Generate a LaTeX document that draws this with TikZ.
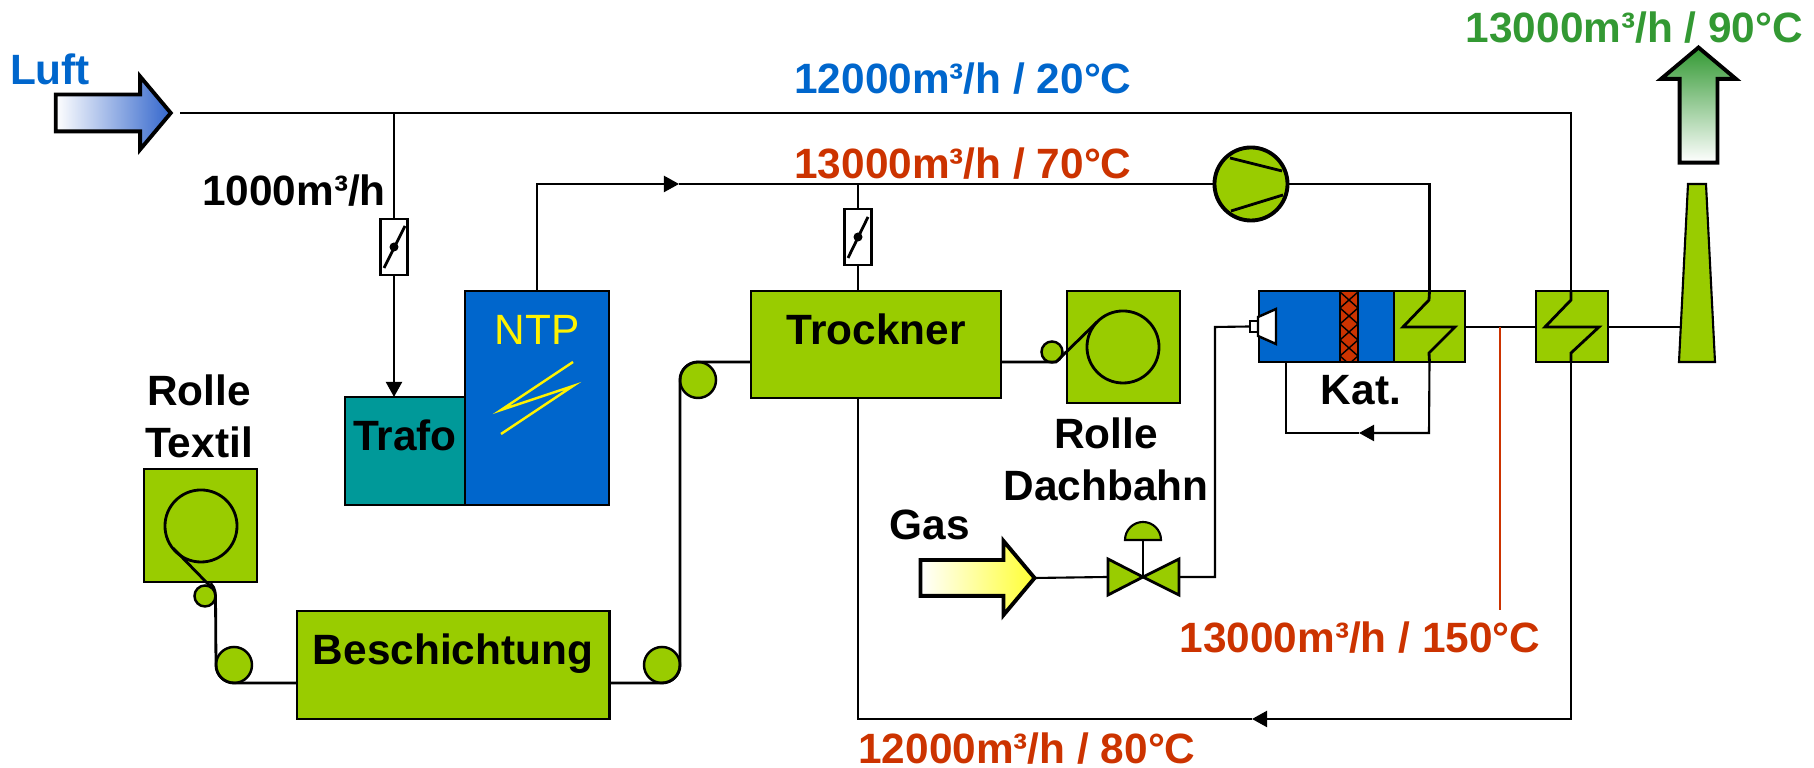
\documentclass[tikz,border=0pt]{standalone}
\usepackage{fontspec}
\setmainfont{Liberation Sans}
\usetikzlibrary{arrows.meta}
\usetikzlibrary{shapes.arrows}
\definecolor{anlage}{HTML}{99CC00}
\definecolor{blau}{HTML}{0066CC}
\definecolor{luftblau}{HTML}{3366CC}
\definecolor{petrol}{HTML}{009999}
\definecolor{rot}{HTML}{CC3300}
\definecolor{gruen}{HTML}{339933}
\tikzstyle{process}=[x=0.01cm, y=-0.01cm, line width=0.6pt, font=\fontsize{12.05}{14.8}\selectfont]
\tikzstyle{box}=[rectangle, draw, inner sep=0pt, outer sep=0pt, line width=0.8pt, fill=anlage]
\tikzstyle{roller}=[circle, draw, inner sep=0pt, outer sep=0pt, line width=0.7pt, fill=anlage]
\tikzstyle{reel}=[circle, draw, inner sep=0pt, outer sep=0pt, line width=0.8pt, minimum size=0.72cm]
\tikzstyle{damper}=[rectangle, draw, inner sep=0pt, outer sep=0pt, fill=white, minimum width=0.27cm, minimum height=0.56cm]
\tikzstyle{pivot}=[circle, fill=black, inner sep=0pt, minimum size=0.09cm]
\tikzstyle{flap}=[line width=0.8pt]
\tikzstyle{zig}=[line width=0.8pt]
\tikzstyle{flow}=[single arrow, draw, inner sep=0pt, outer sep=0pt, line width=1.1pt, single arrow tip angle=100]
\tikzstyle{lbl}=[inner sep=0pt, anchor=base, font=\fontsize{12.05}{14.8}\selectfont\bfseries, align=center]
\tikzstyle{edge}=[-{Triangle[length=0.15cm, width=0.16cm]}]
\begin{document}
\begin{tikzpicture}[process]
	\useasboundingbox (0,0) rectangle (1814,768);

	%The boxes
	\draw (537,398) node[box, fill=blau, minimum width=1.44cm, minimum height=2.14cm] (ntp) {};
	\draw (405,451) node[box, fill=petrol, minimum width=1.20cm, minimum height=1.08cm] (trafo) {};
	\draw (453,665) node[box, minimum width=3.12cm, minimum height=1.08cm] (besch) {};
	\draw (876,344.5) node[box, minimum width=2.50cm, minimum height=1.07cm] (trockner) {};
	\draw (200.5,525.5) node[box, minimum width=1.13cm, minimum height=1.13cm] (rolltex) {};
	\draw (1123.5,347) node[box, minimum width=1.13cm, minimum height=1.12cm] (rolldach) {};
	\draw (1326.5,326.5) node[box, fill=blau, minimum width=1.35cm, minimum height=0.71cm] (kat) {};
	\draw (1349,326.5) node[box, fill=rot, minimum width=0.18cm, minimum height=0.71cm] (kern) {};
	\draw (1429.5,326.5) node[box, minimum width=0.71cm, minimum height=0.71cm] (hxa) {};
	\draw (1572,326.5) node[box, minimum width=0.72cm, minimum height=0.71cm] (hxb) {};

	%The catalyst hatching
	\begin{scope}
		\clip (kern.south west) rectangle (kern.north east);
		\foreach \y in {292,308,324,340,356}
		{
			\draw[line width=0.4pt] (1340,\y) -- (1358,\y+16);
			\draw[line width=0.4pt] (1358,\y) -- (1340,\y+16);
		}
	\end{scope}

	%The rollers and reels
	\draw (205,596) node[roller, minimum size=0.21cm] (rla) {};
	\draw (234,665) node[roller, minimum size=0.36cm] (rlb) {};
	\draw (662,665) node[roller, minimum size=0.36cm] (rlc) {};
	\draw (698,380) node[roller, minimum size=0.36cm] (rld) {};
	\draw (1052,352) node[roller, minimum size=0.21cm] (rle) {};
	\draw (201,526) node[reel] (reeltex) {};
	\draw (1123,347) node[reel] (reeldach) {};

	%The web through the plant
	\coordinate (webtexa) at (209,585);
	\coordinate (webtexb) at (173,548);
	\coordinate (webdacha) at (1056,362);
	\coordinate (webdachb) at (1097,322);
	\draw[zig] (webtexb) -- (webtexa) to[out=45,in=90] (rla.east) -- (rlb.west) to[out=-90,in=180] (rlb.south) -- (besch.west |- rlb.south);
	\draw[zig] (besch.east |- rlc.south) -- (rlc.south) to[out=0,in=-90] (rlc.east) -- (rld.west) to[out=90,in=180] (rld.north) -- (trockner.west |- rld.north);
	\draw[zig] (trockner.east |- webdacha) -- (webdacha) -- (webdachb);

	%The fresh air line
	\draw (105.5,113) node[flow, left color=white, right color=luftblau, minimum height=1.15cm, minimum width=0.69cm, single arrow head extend=0.18cm] (luft) {\rule{0pt}{0.33cm}};
	\coordinate (luftout) at (180,113);
	\coordinate (abzweig) at (394,113);
	\coordinate (luftecke) at (1571,113);
	\draw (394,247) node[damper] (dmpa) {};
	\draw[flap] (384,268) -- (405,226);
	\draw (394,247) node[pivot] (pva) {};
	\draw (luftout) -- (luftecke) -- (luftecke |- hxb.north);
	\draw (abzweig) -- (dmpa.north);
	\draw[edge] (dmpa.south) -- (dmpa.south |- trafo.north);

	%The circulating air line
	\draw (1251,184) node[circle, draw, fill=anlage, inner sep=0pt, outer sep=0pt, line width=1.1pt, minimum size=0.73cm] (vent) {};
	\draw[flap] (1230,158) -- (1282,171);
	\draw[flap] (1231,211) -- (1283,195);
	\coordinate (ntpecke) at (537,184);
	\coordinate (ntppfeil) at (679,184);
	\draw (858,237) node[damper] (dmpb) {};
	\draw[flap] (848,258) -- (868,217);
	\draw (858,237) node[pivot] (pvb) {};
	\draw[edge] (ntp.north) -- (ntpecke) -- (ntppfeil);
	\draw (ntppfeil) -- (vent.west);
	\draw (dmpb.north) -- (dmpb.north |- vent.west);
	\draw (dmpb.south) -- (dmpb.south |- trockner.north);

	%The NTP discharge
	\coordinate (ntpa) at (573,362);
	\coordinate (ntpb) at (501,410);
	\coordinate (ntpc) at (573,386);
	\coordinate (ntpd) at (501,434);
	\draw[yellow, line width=0.7pt] (ntpa) -- (ntpb) -- (ntpc) -- (ntpd);

	%The first heat exchanger and the return to the burner
	\coordinate (hxaa) at (1429,300);
	\coordinate (hxab) at (1403,327);
	\coordinate (hxac) at (1455,327);
	\coordinate (hxad) at (1429,353);
	\coordinate (katecke) at (1429,433);
	\coordinate (katpfeil) at (1359,433);
	\coordinate (katfuss) at (1286,433);
	\draw (vent.east) -| (hxa.north);
	\draw[zig] (hxa.north) -- (hxaa) -- (hxab) -- (hxac) -- (hxad) -- (hxa.south);
	\draw[edge] (hxa.south) -- (katecke) -- (katpfeil);
	\draw (katpfeil) -- (katfuss) -- (katfuss |- kat.south);

	%The second heat exchanger
	\coordinate (hxba) at (1571,300);
	\coordinate (hxbb) at (1545,327);
	\coordinate (hxbc) at (1599,327);
	\coordinate (hxbd) at (1571,353);
	\coordinate (rueckecke) at (1571,719);
	\coordinate (rueckpfeil) at (1252,719);
	\draw[zig] (luftecke |- hxb.north) -- (hxba) -- (hxbb) -- (hxbc) -- (hxbd) -- (rueckecke |- hxb.south);
	\draw[edge] (rueckecke |- hxb.south) -- (rueckecke) -- (rueckpfeil);
	\draw (rueckpfeil) -- (dmpb.south |- rueckpfeil) -- (dmpb.south |- trockner.south);

	%The hot gas lines and the chimney
	\coordinate (rotab) at (1500,327);
	\coordinate (rotende) at (1500,610);
	\coordinate (kamin) at (1685,327);
	\draw (hxa.east |- rotab) -- (hxb.west |- rotab);
	\draw (hxb.east |- rotab) -- (kamin);
	\draw[rot] (rotab) -- (rotende);
	\draw[fill=anlage] (1688,184) -- (1706,184) -- (1715,362) -- (1679,362) -- cycle;
	\draw (1698.5,113) node[flow, shape border rotate=90, top color=gruen, bottom color=white, minimum height=1.15cm, minimum width=0.71cm, single arrow head extend=0.185cm] (abluft) {\rule{0.34cm}{0pt}};

	%The burner and the gas line
	\draw (970,578) node[flow, left color=white, right color=yellow!80, minimum height=1.14cm, minimum width=0.70cm, single arrow head extend=0.19cm] (gas) {\rule{0pt}{0.32cm}};
	\coordinate (vmitte) at (1143,577);
	\coordinate (vlinks) at (1108,577);
	\coordinate (vrechts) at (1179,577);
	\coordinate (gasecke) at (1215,327);
	\coordinate (kopf) at (1143,540);
	\draw[fill=anlage, line width=0.8pt] (1108,559) -- (vmitte) -- (1108,595) -- cycle;
	\draw[fill=anlage, line width=0.8pt] (1179,559) -- (vmitte) -- (1179,595) -- cycle;
	\draw (vmitte) -- (kopf);
	\draw[fill=anlage] (1125,540) arc[start angle=180, end angle=0, radius=0.18cm] -- cycle;
	\draw (1254,326.5) node[rectangle, draw, fill=white, inner sep=0pt, outer sep=0pt, line width=0.7pt, minimum width=0.08cm, minimum height=0.11cm] (duese) {};
	\draw[fill=white, line width=0.7pt] (1258,317) -- (1276,309) -- (1276,344) -- (1258,336) -- cycle;
	\draw (gas.tip) -- (vlinks);
	\draw (vrechts) -| (gasecke) -- (duese.west);

	%The labels
	\draw (50,85) node[lbl, blau] (tluft) {Luft};
	\draw (294,206) node[lbl] (tbypass) {1000m³/h};
	\draw (963,94) node[lbl, blau] (tkalt) {12000m³/h / 20°C};
	\draw (963,179) node[lbl, rot] (tumluft) {13000m³/h / 70°C};
	\draw (1634.5,43) node[lbl, gruen] (tabluft) {13000m³/h / 90°C};
	\draw (1360,653) node[lbl, rot] (theiss) {13000m³/h / 150°C};
	\draw (1027,764) node[lbl, rot] (trueck) {12000m³/h / 80°C};
	\draw (537,345) node[inner sep=0pt, anchor=base, yellow] (tntp) {NTP};
	\draw (405,451) node[lbl] (ttrafo) {Trafo};
	\draw (453,665) node[lbl] (tbesch) {Beschichtung};
	\draw (876,345) node[lbl] (ttrockner) {Trockner};
	\draw (1361,405) node[lbl] (tkat) {Kat.};
	\draw (930,540) node[lbl] (tgas) {Gas};
	\draw (199,458) node[lbl] (ttextil) {Rolle\\Textil};
	\draw (1106,501) node[lbl] (tdach) {Rolle\\Dachbahn};
\end{tikzpicture}
\end{document}
